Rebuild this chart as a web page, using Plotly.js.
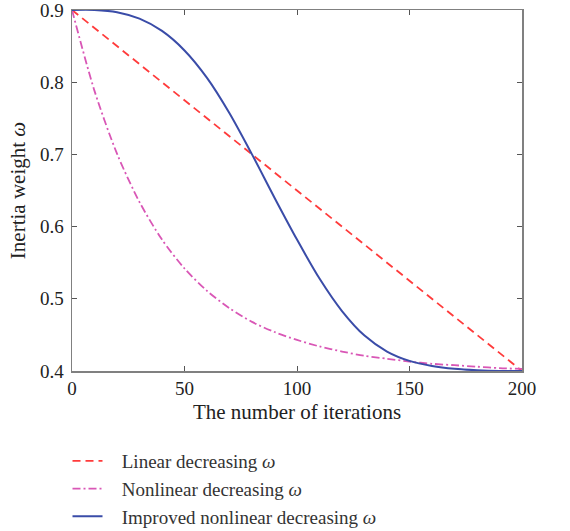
<!DOCTYPE html>
<html>
<head>
<meta charset="utf-8">
<script src="https://cdn.plot.ly/plotly-3.0.1.min.js"></script>
<style>html,body{margin:0;padding:0;background:#fff;}#chart{width:570px;height:531px;}</style>
</head>
<body>
<div id="chart"></div>
<script>
const linearX = [0, 200];
const linearY = [0.9, 0.4];

const iterX = [0, 10, 20, 30, 40, 50, 60, 70, 80, 90, 100, 110, 120, 130, 140, 150, 160, 170, 180, 190, 200];
const nonlinearY = [0.900, 0.788, 0.701, 0.634, 0.582, 0.542, 0.511, 0.487, 0.468, 0.454, 0.443, 0.434, 0.427, 0.421, 0.417, 0.413, 0.410, 0.408, 0.406, 0.404, 0.403];
const improvedY = [0.900, 0.900, 0.897, 0.888, 0.871, 0.844, 0.806, 0.757, 0.700, 0.640, 0.582, 0.528, 0.483, 0.449, 0.427, 0.414, 0.407, 0.403, 0.401, 0.400, 0.400];

const names = ['Linear decreasing <i>ω</i>', 'Nonlinear decreasing <i>ω</i>', 'Improved nonlinear decreasing <i>ω</i>'];

const font = 'Liberation Serif, Times New Roman, serif';
const pad = '\u00a0\u00a0\u00a0';

const traces = [
  {x: linearX, y: linearY, name: pad + names[0], mode: 'lines', line: {color: '#ff3b3b', width: 1.8, dash: '8px,5px'}},
  {x: iterX, y: nonlinearY, name: pad + names[1], mode: 'lines', line: {color: '#d957b6', width: 1.8, dash: '8px,3px,2px,3px', shape: 'spline', smoothing: 0.8}},
  {x: iterX, y: improvedY, name: pad + names[2], mode: 'lines', line: {color: '#3a4ca8', width: 2, shape: 'spline', smoothing: 0.8}}
];

const axisCommon = {
  showgrid: false, zeroline: false,
  showline: true, linecolor: '#808080', linewidth: 1.5, mirror: 'ticks',
  ticks: 'inside', ticklen: 5, tickcolor: '#555555', tickwidth: 1,
  ticklabeloverflow: 'allow',
  tickfont: {family: font, size: 19, color: '#222222'}
};

const layout = {
  width: 570, height: 531,
  margin: {l: 72, r: 48, t: 10, b: 160, autoexpand: false},
  paper_bgcolor: '#ffffff', plot_bgcolor: '#ffffff',
  font: {family: font, color: '#222222'},
  showlegend: true,
  legend: {x: -0.01, y: -0.197, xanchor: 'left', yanchor: 'top', orientation: 'v',
           font: {family: font, size: 19, color: '#333333'}, bgcolor: 'rgba(0,0,0,0)',
           tracegroupgap: 0, itemwidth: 30},
  xaxis: Object.assign({}, axisCommon, {range: [0, 200], dtick: 50, tick0: 0,
           title: {text: 'The number of iterations', font: {family: font, size: 21, color: '#222222'}, standoff: 6}}),
  yaxis: Object.assign({}, axisCommon, {range: [0.4, 0.9], dtick: 0.1, tick0: 0.4, ticklabelstandoff: 3,
           title: {text: 'Inertia weight <i>ω</i>', font: {family: font, size: 21, color: '#222222'}, standoff: 8}})
};

Plotly.newPlot('chart', traces, layout, {displayModeBar: false, staticPlot: true});
</script>
</body>
</html>
